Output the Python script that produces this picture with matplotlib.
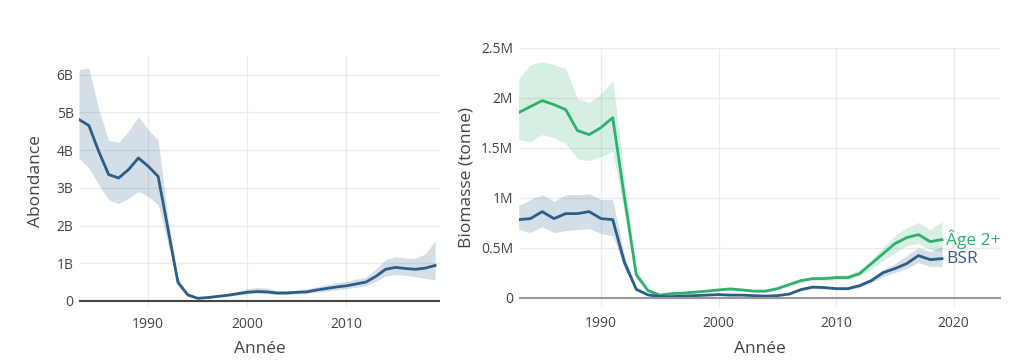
import matplotlib.pyplot as plt
from matplotlib.ticker import FuncFormatter

years = list(range(1983, 2020))

# abondance (milliards)
abond = [4.81, 4.65, 3.96, 3.35, 3.26, 3.48, 3.79, 3.57, 3.30, 1.90, 0.49, 0.16, 0.07,
         0.09, 0.12, 0.15, 0.19, 0.23, 0.25, 0.24, 0.21, 0.21, 0.23, 0.24, 0.29, 0.33,
         0.37, 0.40, 0.45, 0.50, 0.65, 0.84, 0.89, 0.86, 0.84, 0.87, 0.94]
abond_hi = [6.13, 6.18, 5.07, 4.26, 4.20, 4.50, 4.89, 4.54, 4.27, 2.20, 0.60, 0.22, 0.10,
            0.12, 0.15, 0.19, 0.25, 0.32, 0.36, 0.34, 0.28, 0.28, 0.28, 0.32, 0.37, 0.43,
            0.48, 0.52, 0.58, 0.63, 0.85, 1.10, 1.17, 1.14, 1.13, 1.25, 1.59]
abond_lo = [3.79, 3.52, 3.08, 2.68, 2.58, 2.72, 2.90, 2.77, 2.55, 1.50, 0.42, 0.12, 0.05,
            0.07, 0.10, 0.12, 0.15, 0.18, 0.20, 0.19, 0.17, 0.17, 0.19, 0.20, 0.23, 0.26,
            0.29, 0.32, 0.36, 0.40, 0.52, 0.66, 0.70, 0.68, 0.64, 0.60, 0.56]

# biomasse (millions de tonnes)
age2 = [1.85, 1.91, 1.97, 1.93, 1.88, 1.67, 1.63, 1.70, 1.80, 1.00, 0.23, 0.07, 0.025,
        0.04, 0.045, 0.055, 0.065, 0.077, 0.087, 0.077, 0.065, 0.065, 0.09, 0.13, 0.17,
        0.19, 0.19, 0.20, 0.20, 0.24, 0.34, 0.44, 0.54, 0.60, 0.63, 0.56, 0.58]
age2_hi = [2.19, 2.33, 2.36, 2.33, 2.29, 1.99, 1.95, 2.04, 2.17, 1.20, 0.28, 0.09, 0.035,
           0.05, 0.055, 0.068, 0.08, 0.092, 0.10, 0.092, 0.08, 0.08, 0.105, 0.15, 0.19,
           0.21, 0.215, 0.225, 0.23, 0.28, 0.38, 0.50, 0.62, 0.70, 0.75, 0.68, 0.76]
age2_lo = [1.58, 1.56, 1.63, 1.60, 1.54, 1.39, 1.37, 1.41, 1.46, 0.85, 0.19, 0.055, 0.02,
           0.032, 0.037, 0.045, 0.053, 0.064, 0.074, 0.065, 0.053, 0.053, 0.077, 0.113, 0.152,
           0.172, 0.17, 0.178, 0.18, 0.22, 0.29, 0.37, 0.45, 0.52, 0.54, 0.48, 0.46]

bsr = [0.78, 0.79, 0.86, 0.79, 0.84, 0.84, 0.86, 0.79, 0.78, 0.35, 0.083, 0.027, 0.01,
       0.01, 0.015, 0.02, 0.025, 0.03, 0.025, 0.025, 0.02, 0.015, 0.02, 0.035, 0.08,
       0.105, 0.10, 0.09, 0.09, 0.12, 0.17, 0.25, 0.29, 0.34, 0.42, 0.38, 0.39]
bsr_hi = [0.92, 0.98, 1.03, 0.96, 1.03, 1.03, 1.04, 0.98, 0.98, 0.42, 0.10, 0.035, 0.015,
          0.015, 0.02, 0.026, 0.032, 0.038, 0.032, 0.032, 0.026, 0.02, 0.026, 0.045, 0.095,
          0.12, 0.115, 0.105, 0.105, 0.135, 0.20, 0.28, 0.34, 0.42, 0.50, 0.46, 0.51]
bsr_lo = [0.68, 0.65, 0.71, 0.65, 0.67, 0.68, 0.69, 0.64, 0.62, 0.29, 0.07, 0.02, 0.006,
          0.006, 0.01, 0.015, 0.019, 0.023, 0.019, 0.019, 0.015, 0.01, 0.015, 0.028, 0.068,
          0.09, 0.088, 0.078, 0.078, 0.10, 0.15, 0.21, 0.25, 0.29, 0.35, 0.31, 0.31]

BLUE = '#2c5d87'
GREEN = '#2fb06e'
GRID = '#ebebeb'
TXT = '#444444'

plt.rcParams['font.family'] = ['Open Sans', 'DejaVu Sans']


def style(ax):
    for s in ax.spines.values():
        s.set_visible(False)
    ax.grid(True, color=GRID, linewidth=1)
    ax.set_axisbelow(True)
    ax.tick_params(length=0, labelsize=10, labelcolor=TXT, pad=4)
    ax.tick_params(axis='x', pad=7)


fig = plt.figure(figsize=(10.17, 3.62), dpi=100)

ax1 = fig.add_axes([0.0777, 0.152, 0.355, 0.696])
style(ax1)
ax1.fill_between(years, abond_lo, abond_hi, color=BLUE, alpha=0.2, linewidth=0)
ax1.plot(years, abond, color=BLUE, linewidth=2)
ax1.axhline(0, color=TXT, linewidth=1.5)
ax1.set_xlim(1983, 2019.5)
ax1.set_ylim(-0.16, 6.52)
ax1.set_xticks([1990, 2000, 2010])
ax1.set_yticks(range(0, 7))
ax1.yaxis.set_major_formatter(FuncFormatter(lambda v, p: '0' if v == 0 else f'{v:g}B'))
ax1.set_xlabel('Année', fontsize=12.5, color=TXT, labelpad=7)
ax1.set_ylabel('Abondance', fontsize=12.5, color=TXT, labelpad=9)

ax2 = fig.add_axes([0.510, 0.153, 0.474, 0.7155])
style(ax2)
ax2.fill_between(years, age2_lo, age2_hi, color=GREEN, alpha=0.2, linewidth=0)
ax2.fill_between(years, bsr_lo, bsr_hi, color=BLUE, alpha=0.2, linewidth=0)
ax2.plot(years, age2, color=GREEN, linewidth=2)
ax2.plot(years, bsr, color=BLUE, linewidth=2)
ax2.axhline(0, color='#999999', linewidth=1.5)
ax2.set_xlim(1983, 2024)
ax2.set_ylim(-0.09, 2.5)
ax2.set_xticks([1990, 2000, 2010, 2020])
ax2.set_yticks([0, 0.5, 1, 1.5, 2, 2.5])
ax2.yaxis.set_major_formatter(FuncFormatter(lambda v, p: '0' if v == 0 else f'{v:g}M'))
ax2.set_xlabel('Année', fontsize=12.5, color=TXT, labelpad=7)
ax2.set_ylabel('Biomasse (tonne)', fontsize=12.5, color=TXT, labelpad=5)
ax2.annotate('Âge 2+', (years[-1], age2[-1]), xytext=(3, 0), textcoords='offset points',
             color=GREEN, fontsize=12.5, va='center')
ax2.annotate('BSR', (years[-1], bsr[-1]), xytext=(3, 0), textcoords='offset points',
             color=BLUE, fontsize=12.5, va='center')

fig.savefig('out.png', dpi=100)
